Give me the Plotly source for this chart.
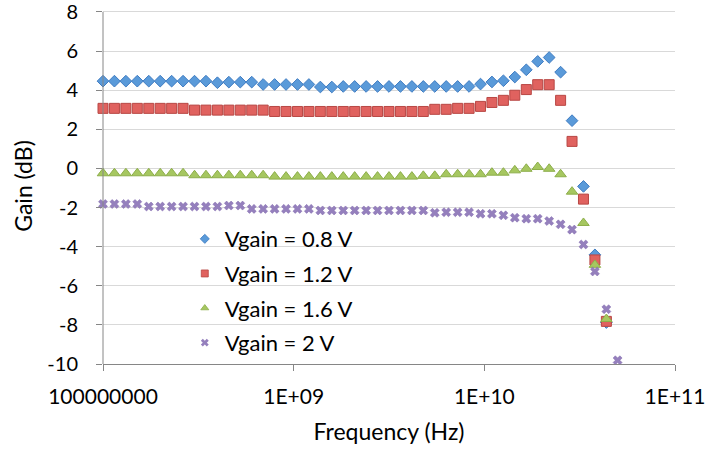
import plotly.graph_objects as go

# Sweep frequencies (Hz), logarithmic sweep from 100 MHz to 50 GHz
freq_hz = [
    1.000e8, 1.148e8, 1.318e8, 1.513e8, 1.738e8, 1.995e8, 2.291e8, 2.630e8, 3.020e8, 3.467e8,
    3.981e8, 4.571e8, 5.248e8, 6.026e8, 6.918e8, 7.943e8, 9.120e8, 1.047e9, 1.202e9, 1.380e9,
    1.585e9, 1.820e9, 2.089e9, 2.399e9, 2.754e9, 3.162e9, 3.631e9, 4.169e9, 4.786e9, 5.495e9,
    6.310e9, 7.244e9, 8.318e9, 9.550e9, 1.096e10, 1.259e10, 1.445e10, 1.660e10, 1.905e10, 2.188e10,
    2.512e10, 2.884e10, 3.311e10, 3.802e10, 4.365e10, 5.000e10,
]

# Measured gain (dB) for each control voltage
gain_08v = [
    4.46, 4.46, 4.46, 4.46, 4.46, 4.46, 4.46, 4.46, 4.46, 4.46,
    4.38, 4.41, 4.41, 4.41, 4.29, 4.29, 4.29, 4.29, 4.29, 4.16,
    4.16, 4.19, 4.19, 4.19, 4.19, 4.19, 4.19, 4.19, 4.19, 4.19,
    4.19, 4.19, 4.19, 4.31, 4.42, 4.48, 4.67, 5.04, 5.47, 5.67,
    4.92, 2.44, -0.92, -4.42, -7.88, None,
]
gain_12v = [
    3.07, 3.07, 3.07, 3.07, 3.07, 3.07, 3.07, 3.07, 2.98, 2.98,
    2.98, 2.98, 2.98, 2.98, 2.98, 2.91, 2.91, 2.91, 2.91, 2.91,
    2.91, 2.91, 2.91, 2.91, 2.91, 2.91, 2.91, 2.91, 2.91, 3.02,
    3.02, 3.07, 3.07, 3.17, 3.37, 3.48, 3.74, 4.03, 4.28, 4.28,
    3.48, 1.38, -1.57, -4.68, -7.82, None,
]
gain_16v = [
    -0.25, -0.25, -0.25, -0.25, -0.25, -0.25, -0.25, -0.25, -0.35, -0.35,
    -0.35, -0.35, -0.35, -0.35, -0.35, -0.42, -0.42, -0.42, -0.42, -0.42,
    -0.42, -0.42, -0.42, -0.42, -0.42, -0.42, -0.42, -0.42, -0.38, -0.38,
    -0.30, -0.30, -0.30, -0.30, -0.22, -0.22, -0.10, -0.02, 0.07, -0.02,
    -0.30, -1.19, -2.79, -4.93, -7.70, None,
]
gain_20v = [
    -1.82, -1.82, -1.82, -1.82, -1.95, -1.95, -1.95, -1.95, -1.95, -1.95,
    -1.95, -1.90, -1.90, -2.07, -2.07, -2.07, -2.07, -2.07, -2.07, -2.15,
    -2.15, -2.15, -2.15, -2.15, -2.15, -2.15, -2.15, -2.15, -2.15, -2.27,
    -2.24, -2.24, -2.24, -2.32, -2.32, -2.40, -2.52, -2.57, -2.57, -2.69,
    -2.86, -3.13, -3.89, -5.27, -7.20, -9.81,
]

series_names = ["Vgain = 0.8 V", "Vgain = 1.2 V", "Vgain = 1.6 V", "Vgain = 2 V"]
x_tick_vals = [1e8, 1e9, 1e10, 1e11]
x_tick_text = ["100000000", "1E+09", "1E+10", "1E+11"]
y_tick_vals = [-10, -8, -6, -4, -2, 0, 2, 4, 6, 8]
y_tick_text = ["-10", "-8", "-6", "-4", "-2", "0", "2", "4", "6", "8"]

symbols = ["diamond", "square", "triangle-up", "x"]
fills = ["#5A9AD9", "#E0625F", "#A6C760", "#9580BD"]
edges = ["#3F7CC2", "#B84744", "#8DAE4A", "#8068AC"]
plot_sizes = [9, 10, 10, 8]
legend_sizes = [7, 7, 7, 7]

FONT = "Lato, 'Open Sans', sans-serif"

fig = go.Figure()
all_gains = [gain_08v, gain_12v, gain_16v, gain_20v]
for i, (name, vals) in enumerate(zip(series_names, all_gains)):
    # data markers
    fig.add_trace(
        go.Scatter(
            x=freq_hz,
            y=vals,
            mode="markers",
            name=name,
            legendgroup=f"g{i}",
            showlegend=False,
            marker=dict(symbol=symbols[i], size=plot_sizes[i], color=fills[i],
                        line=dict(color=edges[i], width=1 if i < 3 else 0.5)),
            cliponaxis=False,
        )
    )
    # smaller swatch for the legend key
    fig.add_trace(
        go.Scatter(
            x=[None],
            y=[None],
            mode="markers",
            name=name,
            legendgroup=f"g{i}",
            showlegend=True,
            marker=dict(symbol=symbols[i], size=legend_sizes[i], color=fills[i],
                        line=dict(color=edges[i], width=0.8 if i < 3 else 0)),
        )
    )

fig.update_layout(
    width=707,
    height=450,
    margin=dict(l=103, r=32, t=8, b=86, autoexpand=False),
    paper_bgcolor="white",
    plot_bgcolor="white",
    font=dict(family=FONT, size=21, color="#000000"),
    showlegend=True,
    legend=dict(
        x=0.143,
        xanchor="left",
        y=0.41,
        yanchor="top",
        bgcolor="rgba(0,0,0,0)",
        font=dict(family=FONT, size=22, color="#000000"),
        tracegroupgap=3,
        traceorder="grouped",
    ),
    xaxis=dict(
        type="log",
        range=[8, 11],
        tickvals=x_tick_vals,
        ticktext=x_tick_text,
        ticks="outside",
        ticklen=6,
        tickcolor="#868686",
        showline=True,
        linecolor="#868686",
        linewidth=1,
        showgrid=False,
        zeroline=False,
        automargin=False,
        ticklabelstandoff=8,
        ticklabeloverflow="allow",
        title=dict(text="Frequency (Hz)", font=dict(family=FONT, size=23), standoff=16),
    ),
    yaxis=dict(
        range=[-10, 8.2],
        tickvals=y_tick_vals,
        ticktext=y_tick_text,
        tickfont=dict(family=FONT, size=20),
        ticks="outside",
        ticklen=6,
        tickcolor="#868686",
        showline=False,
        showgrid=True,
        gridcolor="#D9D9D9",
        gridwidth=1.3,
        zeroline=False,
        automargin=False,
        ticklabelstandoff=14,
        ticklabeloverflow="allow",
        title=dict(text="Gain (dB)", font=dict(family=FONT, size=23), standoff=8),
    ),
    shapes=[
        # vertical axis line spanning -10 .. 8 only
        dict(type="line", xref="x domain", yref="y", x0=0, x1=0, y0=-10, y1=8,
             line=dict(color="#868686", width=1), layer="above"),
    ],
)

fig.write_html("out.html")
